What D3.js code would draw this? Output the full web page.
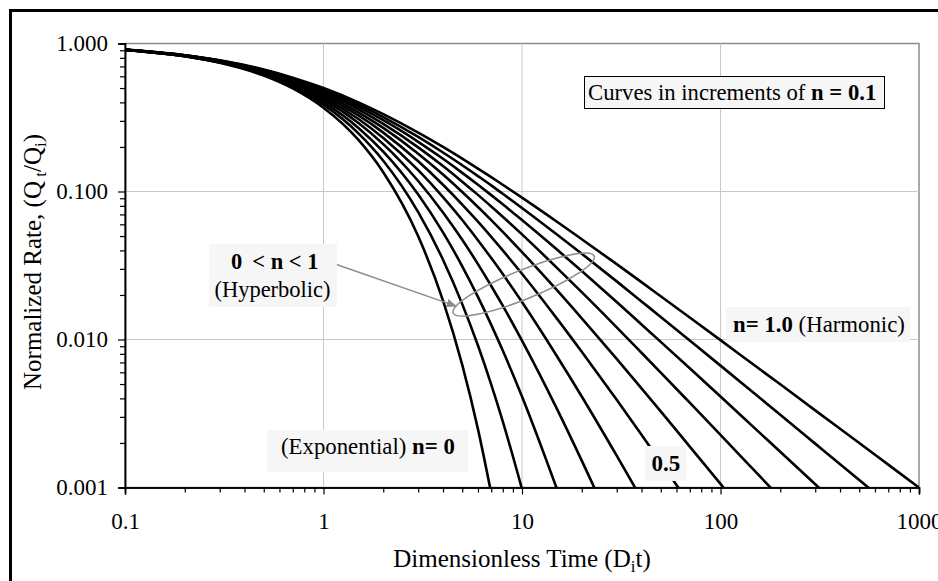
<!DOCTYPE html>
<html>
<head>
<meta charset="utf-8">
<script src="https://cdn.jsdelivr.net/npm/d3@7"></script>
<style>
  body { margin: 0; background: #fff; }
  svg { display: block; font-family: "Times New Roman", "Liberation Serif", serif; }
</style>
</head>
<body>
<script>
var timeValues = [0.1, 0.2, 0.3, 0.5, 0.7, 1, 1.5, 2, 3, 4, 5, 6, 7, 8, 10, 15, 20, 30, 40, 50, 70, 100, 150, 200, 300, 500, 700, 1000];

// Normalized rate for each b-exponent (n), same order as timeValues
var rateN00 = [0.905, 0.819, 0.741, 0.607, 0.497, 0.368, 0.223, 0.135, 0.0498, 0.0183, 0.00674, 0.00248, 0.000912];
var rateN01 = [0.905, 0.820, 0.744, 0.614, 0.508, 0.386, 0.247, 0.1615, 0.0725, 0.0346, 0.01734, 0.0091, 0.00496, 0.0028, 0.000977];
var rateN02 = [0.906, 0.822, 0.747, 0.621, 0.519, 0.402, 0.269, 0.186, 0.0954, 0.0529, 0.03125, 0.0194, 0.01256, 0.00842, 0.00412, 0.000977];
var rateN03 = [0.906, 0.823, 0.750, 0.628, 0.530, 0.417, 0.290, 0.209, 0.1177, 0.0722, 0.0472, 0.0323, 0.0230, 0.01692, 0.00984, 0.0034, 0.00152, 0.000464];
var rateN04 = [0.907, 0.825, 0.753, 0.634, 0.539, 0.431, 0.309, 0.230, 0.1393, 0.0917, 0.0642, 0.0469, 0.0355, 0.0277, 0.0179, 0.00771, 0.00412, 0.00164, 0.000839];
var rateN05 = [0.907, 0.826, 0.756, 0.640, 0.549, 0.444, 0.3265, 0.25, 0.16, 0.1111, 0.0816, 0.0625, 0.0494, 0.04, 0.0278, 0.01384, 0.00826, 0.00391, 0.00227, 0.00148, 0.000772];
var rateN06 = [0.907, 0.828, 0.759, 0.646, 0.557, 0.457, 0.343, 0.269, 0.180, 0.1301, 0.0992, 0.0786, 0.0641, 0.0534, 0.0390, 0.02154, 0.01391, 0.00739, 0.00468, 0.00327, 0.00189, 0.001058, 0.000543];
var rateN07 = [0.908, 0.829, 0.762, 0.651, 0.566, 0.469, 0.359, 0.286, 0.1987, 0.1485, 0.1166, 0.0949, 0.0792, 0.0675, 0.0513, 0.0305, 0.0209, 0.01209, 0.00814, 0.00598, 0.00374, 0.00227, 0.001279, 0.000851];
var rateN08 = [0.908, 0.831, 0.764, 0.657, 0.574, 0.480, 0.373, 0.303, 0.2166, 0.1663, 0.1337, 0.1111, 0.0945, 0.0819, 0.0641, 0.0405, 0.0290, 0.0179, 0.01264, 0.00964, 0.00639, 0.00412, 0.00249, 0.001744, 0.001053, 0.000557];
var rateN09 = [0.909, 0.832, 0.767, 0.662, 0.581, 0.490, 0.387, 0.3185, 0.2337, 0.1835, 0.1505, 0.1271, 0.1099, 0.0965, 0.0774, 0.0512, 0.0380, 0.0247, 0.01809, 0.01421, 0.00984, 0.00666, 0.00426, 0.0031, 0.001979, 0.001124, 0.000774];
var rateN10 = [0.909, 0.833, 0.769, 0.667, 0.588, 0.5, 0.4, 0.333, 0.25, 0.2, 0.1667, 0.1429, 0.125, 0.1111, 0.0909, 0.0625, 0.0476, 0.0323, 0.0244, 0.0196, 0.01408, 0.0099, 0.00662, 0.00498, 0.00332, 0.002, 0.001427, 0.000999];

var curves = [rateN00, rateN01, rateN02, rateN03, rateN04, rateN05, rateN06, rateN07, rateN08, rateN09, rateN10];

// Axis ticks
var xMajor = [0.1, 1, 10, 100, 1000];
var yMajor = [0.001, 0.01, 0.1, 1];
var minorSteps = [2, 3, 4, 5, 6, 7, 8, 9];

var width = 938, height = 581;
var plot = { left: 125, right: 919, top: 43.5, bottom: 487.5 };

var x = d3.scaleLog().domain([0.1, 1000]).range([plot.left, plot.right]);
var y = d3.scaleLog().domain([0.001, 1]).range([plot.bottom, plot.top]);

var xMinor = [], yMinor = [];
xMajor.slice(0, -1).forEach(function(d) { minorSteps.forEach(function(s) { xMinor.push(d * s); }); });
yMajor.slice(0, -1).forEach(function(d) { minorSteps.forEach(function(s) { yMinor.push(d * s); }); });

var svg = d3.select("body").append("svg")
  .attr("width", width)
  .attr("height", height);

// outer frame (runs off the right and bottom)
svg.append("rect")
  .attr("x", 10.5).attr("y", 10.5)
  .attr("width", 1000).attr("height", 1000)
  .attr("fill", "none").attr("stroke", "#000").attr("stroke-width", 3);

// plot border
svg.append("rect")
  .attr("x", plot.left).attr("y", plot.top)
  .attr("width", plot.right - plot.left).attr("height", plot.bottom - plot.top)
  .attr("fill", "#fff").attr("stroke", "#8a8a8a").attr("stroke-width", 1.5);

// gridlines
svg.append("g").selectAll("line")
  .data(xMajor.slice(1, -1))
  .enter().append("line")
  .attr("x1", function(d) { return x(d); }).attr("x2", function(d) { return x(d); })
  .attr("y1", plot.top).attr("y2", plot.bottom)
  .attr("stroke", "#c8c8c8").attr("stroke-width", 1);

svg.append("g").selectAll("line")
  .data(yMajor.slice(1, -1))
  .enter().append("line")
  .attr("y1", function(d) { return y(d); }).attr("y2", function(d) { return y(d); })
  .attr("x1", plot.left).attr("x2", plot.right)
  .attr("stroke", "#c8c8c8").attr("stroke-width", 1);

// curves
svg.append("clipPath").attr("id", "plot-clip")
  .append("rect")
  .attr("x", plot.left).attr("y", plot.top)
  .attr("width", plot.right - plot.left).attr("height", plot.bottom - plot.top);

var line = d3.line()
  .x(function(d, i) { return x(timeValues[i]); })
  .y(function(d) { return y(d); })
  .curve(d3.curveMonotoneX);

svg.append("g")
  .attr("clip-path", "url(#plot-clip)")
  .selectAll("path")
  .data(curves)
  .enter().append("path")
  .attr("d", line)
  .attr("fill", "none")
  .attr("stroke", "#000")
  .attr("stroke-width", 2.6);

// axes
function styleAxis(g) {
  g.select(".domain").attr("stroke", "#000").attr("stroke-width", 1.5);
  g.selectAll(".tick line").attr("stroke", "#000").attr("stroke-width", 1.2);
  g.selectAll("text").attr("font-family", "'Times New Roman', 'Liberation Serif', serif")
    .attr("font-size", 23).attr("fill", "#000");
}

svg.append("g")
  .attr("transform", "translate(" + plot.left + ",0)")
  .call(d3.axisLeft(y).tickValues(yMinor).tickSize(5).tickFormat(""))
  .call(styleAxis);

svg.append("g")
  .attr("transform", "translate(" + plot.left + ",0)")
  .call(d3.axisLeft(y).tickValues(yMajor).tickSize(7).tickPadding(10).tickFormat(d3.format(".3f")))
  .call(styleAxis);

svg.append("g")
  .attr("transform", "translate(0," + plot.bottom + ")")
  .call(d3.axisBottom(x).tickValues(xMinor).tickSize(5).tickFormat(""))
  .call(styleAxis);

svg.append("g")
  .attr("transform", "translate(0," + plot.bottom + ")")
  .call(d3.axisBottom(x).tickValues(xMajor).tickSize(7).tickPadding(18).tickFormat(function(d) { return String(d); }))
  .call(styleAxis);

// axis titles
var xTitle = svg.append("text")
  .attr("x", (plot.left + plot.right) / 2)
  .attr("y", 567)
  .attr("text-anchor", "middle")
  .attr("font-size", 25);
xTitle.append("tspan").text("Dimensionless Time (D");
xTitle.append("tspan").attr("font-size", 17).attr("dy", 5).text("i");
xTitle.append("tspan").attr("dy", -5).text("t)");

var yTitle = svg.append("text")
  .attr("transform", "translate(41,262) rotate(-90)")
  .attr("text-anchor", "middle")
  .attr("font-size", 25);
yTitle.append("tspan").text("Normalized Rate, (Q");
yTitle.append("tspan").attr("font-size", 17).attr("dy", 5).text(" t");
yTitle.append("tspan").attr("dy", -5).text("/Q");
yTitle.append("tspan").attr("font-size", 17).attr("dy", 5).text("i");
yTitle.append("tspan").attr("dy", -5).text(")");

// annotations
function box(x0, y0, w, h, stroke) {
  return svg.append("rect")
    .attr("x", x0).attr("y", y0).attr("width", w).attr("height", h)
    .attr("fill", "#f6f6f6")
    .attr("stroke", stroke || "none");
}

// increments note
box(584.5, 76.5, 300, 32, "#000");
var note = svg.append("text").attr("x", 588).attr("y", 100).attr("font-size", 22.7);
note.append("tspan").text("Curves in increments of ");
note.append("tspan").attr("font-weight", "bold").text("n = 0.1");

// hyperbolic label, arrow and ellipse
svg.append("defs").append("marker")
  .attr("id", "arrow")
  .attr("viewBox", "0 0 10 10")
  .attr("refX", 9).attr("refY", 5)
  .attr("markerWidth", 7).attr("markerHeight", 7)
  .attr("orient", "auto")
  .append("path")
  .attr("d", "M0,1 L10,5 L0,9 Z")
  .attr("fill", "#8c8c8c");

svg.append("ellipse")
  .attr("cx", x(10.2)).attr("cy", y(0.0235))
  .attr("rx", 76).attr("ry", 14.5)
  .attr("transform", "rotate(-22," + x(10.2) + "," + y(0.0235) + ")")
  .attr("fill", "none").attr("stroke", "#8c8c8c").attr("stroke-width", 1.5);

svg.append("line")
  .attr("x1", 325).attr("y1", 260.5)
  .attr("x2", x(4.65)).attr("y2", y(0.0168))
  .attr("stroke", "#8c8c8c").attr("stroke-width", 1.5)
  .attr("marker-end", "url(#arrow)");

box(209, 244, 128, 63);
var hyp = svg.append("text").attr("x", 231).attr("y", 269).attr("font-size", 22.5).attr("font-weight", "bold");
hyp.append("tspan").text("0");
hyp.append("tspan").attr("dx", 10).text("< n < 1");
svg.append("text").attr("x", 272.5).attr("y", 296.5)
  .attr("text-anchor", "middle").attr("font-size", 22.5)
  .text("(Hyperbolic)");

// harmonic label
box(726, 307, 184, 35);
var harm = svg.append("text").attr("x", 733).attr("y", 331.5).attr("font-size", 22.8);
harm.append("tspan").attr("font-weight", "bold").text("n= 1.0");
harm.append("tspan").text(" (Harmonic)");

// exponential label
box(267, 430, 201, 42);
var expo = svg.append("text").attr("x", 281).attr("y", 453.5).attr("font-size", 22.8);
expo.append("tspan").text("(Exponential) ");
expo.append("tspan").attr("font-weight", "bold").text("n= 0");

// mid curve label
box(645, 446, 41, 35);
svg.append("text").attr("x", 651.5).attr("y", 470.5)
  .attr("font-size", 23).attr("font-weight", "bold")
  .text("0.5");
</script>
</body>
</html>
